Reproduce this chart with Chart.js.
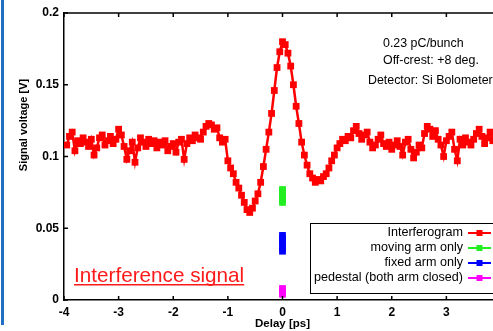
<!DOCTYPE html>
<html>
<head>
<meta charset="utf-8">
<script src="https://cdn.jsdelivr.net/npm/chart.js@4.4.1/dist/chart.umd.min.js"></script>
<style>
  html, body { margin: 0; padding: 0; background: #fff; overflow: hidden; }
  #wrap { position: relative; width: 493px; height: 331px; overflow: hidden; }
  #edge { position: absolute; left: 1px; top: 0; width: 3px; height: 325px; background: #1f6fc6; }
  canvas { position: absolute; left: 0; top: 0; }
</style>
</head>
<body>
<div id="wrap">
  <canvas id="chart" width="510" height="331"></canvas>
  <div id="edge"></div>
</div>
<script>
// delay [ps] and signal [V]
const delay = [
  -3.95, -3.90, -3.85, -3.80, -3.75, -3.70, -3.65, -3.60, -3.55, -3.50,
  -3.45, -3.40, -3.35, -3.30, -3.25, -3.20, -3.15, -3.10, -3.05, -3.00,
  -2.95, -2.90, -2.85, -2.80, -2.75, -2.70, -2.65, -2.60, -2.55, -2.50,
  -2.45, -2.40, -2.35, -2.30, -2.25, -2.20, -2.15, -2.10, -2.05, -2.00,
  -1.95, -1.90, -1.85, -1.80, -1.75, -1.70, -1.65, -1.60, -1.55, -1.50,
  -1.45, -1.40, -1.35, -1.30, -1.25, -1.20, -1.15, -1.10, -1.05, -1.00,
  -0.95, -0.90, -0.85, -0.80, -0.75, -0.70, -0.65, -0.60, -0.55, -0.50,
  -0.45, -0.40, -0.35, -0.30, -0.25, -0.20, -0.15, -0.10, -0.05, 0.00,
  0.05, 0.10, 0.15, 0.20, 0.25, 0.30, 0.35, 0.40, 0.45, 0.50,
  0.55, 0.60, 0.65, 0.70, 0.75, 0.80, 0.85, 0.90, 0.95, 1.00,
  1.05, 1.10, 1.15, 1.20, 1.25, 1.30, 1.35, 1.40, 1.45, 1.50,
  1.55, 1.60, 1.65, 1.70, 1.75, 1.80, 1.85, 1.90, 1.95, 2.00,
  2.05, 2.10, 2.15, 2.20, 2.25, 2.30, 2.35, 2.40, 2.45, 2.50,
  2.55, 2.60, 2.65, 2.70, 2.75, 2.80, 2.85, 2.90, 2.95, 3.00,
  3.05, 3.10, 3.15, 3.20, 3.25, 3.30, 3.35, 3.40, 3.45, 3.50,
  3.55, 3.60, 3.65, 3.70, 3.75, 3.80, 3.85, 3.90, 3.95
];
const interferogram = [
  0.108, 0.114, 0.117, 0.104, 0.111, 0.109, 0.113, 0.110, 0.107, 0.112,
  0.101, 0.106, 0.113, 0.115, 0.108, 0.111, 0.114, 0.109, 0.112, 0.119,
  0.115, 0.107, 0.098, 0.104, 0.110, 0.096, 0.106, 0.113, 0.110, 0.107,
  0.112, 0.109, 0.111, 0.106, 0.110, 0.108, 0.111, 0.104, 0.107, 0.109,
  0.103, 0.110, 0.112, 0.098, 0.109, 0.113, 0.111, 0.115, 0.113, 0.112,
  0.117, 0.121, 0.123, 0.122, 0.119, 0.120, 0.113, 0.110, 0.112, 0.097,
  0.092, 0.088, 0.082, 0.078, 0.073, 0.068, 0.063, 0.061, 0.064, 0.069,
  0.074, 0.082, 0.093, 0.105, 0.117, 0.130, 0.146, 0.162, 0.173, 0.180,
  0.178, 0.172, 0.163, 0.150, 0.135, 0.123, 0.110, 0.101, 0.094, 0.088,
  0.085, 0.082, 0.084, 0.083, 0.086, 0.088, 0.092, 0.097, 0.101, 0.106,
  0.109, 0.112, 0.111, 0.114, 0.113, 0.118, 0.121, 0.116, 0.112, 0.115,
  0.117, 0.110, 0.106, 0.108, 0.112, 0.115, 0.109, 0.107, 0.110, 0.105,
  0.108, 0.111, 0.107, 0.101, 0.110, 0.112, 0.105, 0.099, 0.103, 0.108,
  0.106, 0.116, 0.121, 0.119, 0.114, 0.118, 0.112, 0.108, 0.100, 0.111,
  0.114, 0.117, 0.105, 0.097, 0.112, 0.108, 0.113, 0.110, 0.108, 0.112,
  0.116, 0.119, 0.114, 0.109, 0.113, 0.117, 0.111, 0.114, 0.112
];
// single-arm and pedestal readings, all taken at zero delay
const movingArm = [0.068, 0.070, 0.072, 0.074, 0.076, 0.077];
const fixedArm = [0.034, 0.036, 0.039, 0.041, 0.043, 0.045];
const pedestal = [0.004, 0.006, 0.008];

const seriesNames = ['Interferogram', 'moving arm only', 'fixed arm only', 'pedestal (both arm closed)'];
const seriesColors = ['#ff0000', '#22ee22', '#0000ff', '#ff00ff'];
const notes = ['0.23 pC/bunch', 'Off-crest: +8 deg.', 'Detector: Si Bolometer'];

const FONT = "'Liberation Sans', Arial, sans-serif";

function atZero(values) {
  return values.map(v => ({ x: 0, y: v }));
}

function makeSet(i, data) {
  return {
    label: seriesNames[i],
    data: data,
    borderColor: seriesColors[i],
    backgroundColor: seriesColors[i],
    borderWidth: 2.5,
    pointStyle: 'rect',
    pointRadius: 4.8,
    pointBorderWidth: 0,
    tension: 0
  };
}

const decor = {
  id: 'decor',
  afterDraw(chart) {
    const { ctx, chartArea: a, scales: { x, y } } = chart;
    ctx.save();
    ctx.strokeStyle = '#000';
    ctx.lineWidth = 1.5;
    ctx.beginPath();
    ctx.moveTo(a.left, a.top);
    ctx.lineTo(a.right, a.top);
    ctx.stroke();

    // ticks pointing inwards
    ctx.beginPath();
    x.ticks.forEach(t => {
      const px = x.getPixelForValue(t.value);
      ctx.moveTo(px, a.bottom); ctx.lineTo(px, a.bottom - 4);
      ctx.moveTo(px, a.top); ctx.lineTo(px, a.top + 4);
    });
    y.ticks.forEach(t => {
      const py = y.getPixelForValue(t.value);
      ctx.moveTo(a.left, py); ctx.lineTo(a.left + 4, py);
    });
    ctx.stroke();

    // y title
    ctx.fillStyle = '#000';
    ctx.font = 'bold 11px ' + FONT;
    ctx.textAlign = 'center';
    ctx.textBaseline = 'middle';
    ctx.save();
    ctx.translate(24, 125);
    ctx.rotate(-Math.PI / 2);
    ctx.fillText('Signal voltage [V]', 0, 0);
    ctx.restore();

    // notes
    ctx.font = '12.4px ' + FONT;
    ctx.textAlign = 'left';
    ctx.fillText(notes[0], 383, 44);
    ctx.fillText(notes[1], 383, 61);
    ctx.fillText(notes[2], 368, 81);

    // legend box
    ctx.fillStyle = '#fff';
    ctx.fillRect(310, 223, 200, 70);
    ctx.lineWidth = 1;
    ctx.strokeRect(310.5, 223.5, 200, 70);
    ctx.font = '12.6px ' + FONT;
    chart.data.datasets.forEach((ds, i) => {
      const ry = 233 + i * 15;
      ctx.fillStyle = '#000';
      ctx.textAlign = 'right';
      ctx.fillText(ds.label, 463, ry);
      ctx.strokeStyle = ds.borderColor;
      ctx.lineWidth = 2;
      ctx.beginPath();
      ctx.moveTo(468, ry); ctx.lineTo(491, ry);
      ctx.stroke();
      ctx.fillStyle = ds.borderColor;
      ctx.fillRect(476.5, ry - 3, 6, 6);
    });

    // red caption, sized to its width in the picture
    const cap = 'Interference signal';
    ctx.font = '20px ' + FONT;
    const size = 20 * 170 / ctx.measureText(cap).width;
    ctx.font = size.toFixed(1) + 'px ' + FONT;
    ctx.fillStyle = '#ff1a1a';
    ctx.textAlign = 'left';
    ctx.textBaseline = 'alphabetic';
    const w = ctx.measureText(cap).width;
    ctx.fillText(cap, 74, 282);
    ctx.fillRect(74, 284, w, 1.5);
    ctx.restore();
  }
};

new Chart(document.getElementById('chart'), {
  type: 'line',
  data: {
    datasets: [
      makeSet(0, delay.map((d, i) => ({ x: d, y: interferogram[i] }))),
      makeSet(1, atZero(movingArm)),
      makeSet(2, atZero(fixedArm)),
      makeSet(3, atZero(pedestal))
    ]
  },
  options: {
    responsive: false,
    animation: false,
    layout: { padding: { top: 13, right: 9, left: 0, bottom: 0 } },
    plugins: { legend: { display: false }, tooltip: { enabled: false } },
    scales: {
      x: {
        type: 'linear',
        min: -4, max: 4,
        ticks: { stepSize: 1, padding: 5, color: '#000', font: { family: FONT, size: 12, weight: 'bold' } },
        grid: { display: false, drawTicks: false },
        border: { display: true, color: '#000', width: 1.5 },
        title: { display: true, text: 'Delay [ps]', color: '#000', padding: 0, font: { family: FONT, size: 11.5, weight: 'bold' } },
        afterFit(s) { s.height = 31; }
      },
      y: {
        min: 0, max: 0.2,
        ticks: {
          stepSize: 0.05, padding: 5, color: '#000',
          font: { family: FONT, size: 12, weight: 'bold' },
          callback: v => String(+v.toFixed(2))
        },
        grid: { display: false, drawTicks: false },
        border: { display: true, color: '#000', width: 1.5 },
        afterFit(s) { s.width = 64; }
      }
    }
  },
  plugins: [decor]
});
</script>
</body>
</html>
